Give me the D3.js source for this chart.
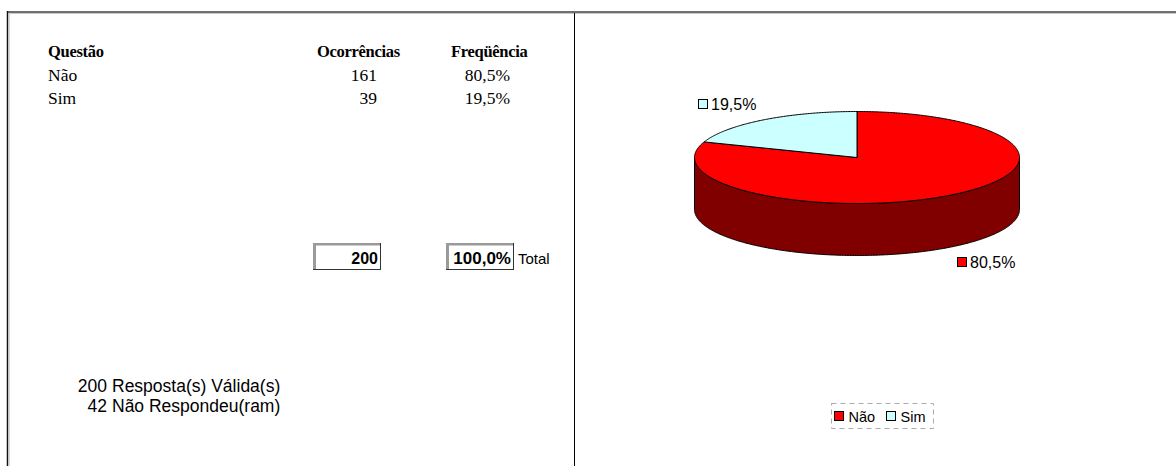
<!DOCTYPE html>
<html>
<head>
<meta charset="utf-8">
<script src="https://cdn.jsdelivr.net/npm/d3@7"></script>
<style>
  html, body { margin: 0; padding: 0; background: #fff; }
  svg { display: block; }
  .serif { font-family: "Liberation Serif", "Times New Roman", serif; }
  .sans { font-family: "Liberation Sans", Arial, sans-serif; }
</style>
</head>
<body>
<svg id="chart" width="1176" height="466"></svg>
<script>
// Survey answers
const categories = ["Não", "Sim"];
const counts = [161, 39];
const colors = ["#FF0000", "#CCFFFF"];
const sideColors = ["#800000", "#669999"];
const headers = ["Questão", "Ocorrências", "Freqüência"];
const validAnswers = 200;
const noAnswer = 42;

const total = d3.sum(counts);
const ptLocale = d3.formatLocale({ decimal: ",", thousands: ".", grouping: [3], currency: ["R$", ""] });
const pct = ptLocale.format(".1%");

const svg = d3.select("#chart");

// Page frame
svg.append("rect").attr("x", 0).attr("y", 0).attr("width", 1176).attr("height", 466).attr("fill", "#fff");
svg.append("line").attr("x1", 7).attr("x2", 1176).attr("y1", 12).attr("y2", 12).attr("stroke", "#707070").attr("stroke-width", 2);
svg.append("line").attr("x1", 9).attr("x2", 1176).attr("y1", 13.5).attr("y2", 13.5).attr("stroke", "#c8c8c8").attr("stroke-width", 1);
svg.append("line").attr("x1", 7.5).attr("x2", 7.5).attr("y1", 11).attr("y2", 466).attr("stroke", "#111").attr("stroke-width", 1.5);
svg.append("line").attr("x1", 9.2).attr("x2", 9.2).attr("y1", 13).attr("y2", 466).attr("stroke", "#c8c8c8").attr("stroke-width", 1);
svg.append("line").attr("x1", 574.5).attr("x2", 574.5).attr("y1", 13).attr("y2", 466).attr("stroke", "#000").attr("stroke-width", 1);

// ---- Frequency table ----
const table = svg.append("g").attr("class", "serif").attr("font-size", 17.5).attr("fill", "#000");
const headY = 56.5;
const rowY = d3.scalePoint().domain(categories).range([81, 104]);

table.append("text").attr("x", 48).attr("y", headY).attr("font-weight", "bold").attr("font-size", 16.5).attr("letter-spacing", -0.3).text(headers[0]);
table.append("text").attr("x", 317).attr("y", headY).attr("font-weight", "bold").attr("font-size", 16.5).attr("letter-spacing", -0.3).text(headers[1]);
table.append("text").attr("x", 451).attr("y", headY).attr("font-weight", "bold").attr("font-size", 16.5).attr("letter-spacing", -0.3).text(headers[2]);

categories.forEach((c, i) => {
  const y = rowY(c);
  table.append("text").attr("x", 48).attr("y", y).text(c);
  table.append("text").attr("x", 377).attr("y", y).attr("text-anchor", "end").text(counts[i]);
  table.append("text").attr("x", 510).attr("y", y).attr("text-anchor", "end").text(pct(counts[i] / total));
});

// Totals boxes
function totalBox(x, y, w, h, label, size) {
  const g = svg.append("g");
  g.append("rect").attr("x", x).attr("y", y).attr("width", w).attr("height", h).attr("fill", "#fff");
  g.append("line").attr("x1", x + 1.5).attr("x2", x + 1.5).attr("y1", y).attr("y2", y + h).attr("stroke", "#9a9a9a").attr("stroke-width", 3);
  g.append("line").attr("x1", x).attr("x2", x + w).attr("y1", y + 1.2).attr("y2", y + 1.2).attr("stroke", "#9a9a9a").attr("stroke-width", 2.4);
  g.append("line").attr("x1", x + w - 0.5).attr("x2", x + w - 0.5).attr("y1", y).attr("y2", y + h).attr("stroke", "#333").attr("stroke-width", 1);
  g.append("line").attr("x1", x).attr("x2", x + w).attr("y1", y + h - 0.5).attr("y2", y + h - 0.5).attr("stroke", "#333").attr("stroke-width", 1);
  g.append("text").attr("class", "sans").attr("x", x + w - 3).attr("y", y + 21)
    .attr("text-anchor", "end").attr("font-weight", "bold").attr("font-size", size).text(label);
}
totalBox(313, 243, 68, 27, total, 16);
totalBox(446, 243, 68, 27, pct(d3.sum(counts) / total), 17);
svg.append("text").attr("class", "sans").attr("x", 518).attr("y", 264).attr("font-size", 15).text("Total");

// Response summary
const summary = svg.append("g").attr("class", "sans").attr("font-size", 17.5);
[[validAnswers, "Resposta(s) Válida(s)"], [noAnswer, "Não Respondeu(ram)"]].forEach((d, i) => {
  const y = 391.5 + i * 20.5;
  summary.append("text").attr("x", 107).attr("y", y).attr("text-anchor", "end").text(d[0]);
  summary.append("text").attr("x", 112).attr("y", y).text(d[1]);
});

// ---- 3D pie ----
const cx = 857, cy = 157.5, rx = 162.5, ry = 46, depth = 52;
const pie = d3.pie().sort(null).value(d => d)(counts);
const proj = (a, dy = 0) => [cx + rx * Math.sin(a), cy - ry * Math.cos(a) + dy];
const arcPoints = (a0, a1, dy = 0) => {
  const n = Math.max(2, Math.ceil(Math.abs(a1 - a0) / 0.01));
  return d3.range(n + 1).map(k => proj(a0 + (a1 - a0) * k / n, dy));
};
const line = d3.line();
const pieG = svg.append("g");

// side walls (visible front half: angles between PI/2 and 3PI/2)
pie.forEach((s, i) => {
  const a0 = Math.max(s.startAngle, Math.PI / 2), a1 = Math.min(s.endAngle, 3 * Math.PI / 2);
  if (a1 <= a0) return;
  const pts = arcPoints(a0, a1).concat(arcPoints(a1, a0, depth));
  pieG.append("path").attr("d", line(pts) + "Z")
    .attr("fill", sideColors[i]).attr("stroke", "#000").attr("stroke-width", 1).attr("stroke-linejoin", "round");
});

// top faces
pie.forEach((s, i) => {
  const pts = [[cx, cy]].concat(arcPoints(s.startAngle, s.endAngle));
  pieG.append("path").attr("d", line(pts) + "Z")
    .attr("fill", colors[i]).attr("stroke", "#000").attr("stroke-width", 1).attr("stroke-linejoin", "round");
});

// data labels
const labelPos = [[957, 257], [698, 99]];
pie.forEach((s, i) => {
  const [lx, ly] = labelPos[i];
  svg.append("rect").attr("x", lx + 0.5).attr("y", ly + 0.5).attr("width", 9).attr("height", 9)
    .attr("fill", colors[i]).attr("stroke", "#000").attr("stroke-width", 1);
  svg.append("text").attr("class", "sans").attr("x", lx + 13).attr("y", ly + 10.5)
    .attr("font-size", 16).text(pct(s.data / total));
});

// legend
const legend = svg.append("g");
legend.append("rect").attr("x", 831.5).attr("y", 403.5).attr("width", 102).attr("height", 25)
  .attr("fill", "#fff").attr("stroke", "#aaa").attr("stroke-width", 1).attr("stroke-dasharray", "5,4");
const legX = [834.5, 886.5];
categories.forEach((c, i) => {
  legend.append("rect").attr("x", legX[i]).attr("y", 411.5).attr("width", 9).attr("height", 9)
    .attr("fill", colors[i]).attr("stroke", "#000").attr("stroke-width", 1);
  legend.append("text").attr("class", "sans").attr("x", legX[i] + 14).attr("y", 422)
    .attr("font-size", 14.5).text(c);
});
</script>
</body>
</html>
